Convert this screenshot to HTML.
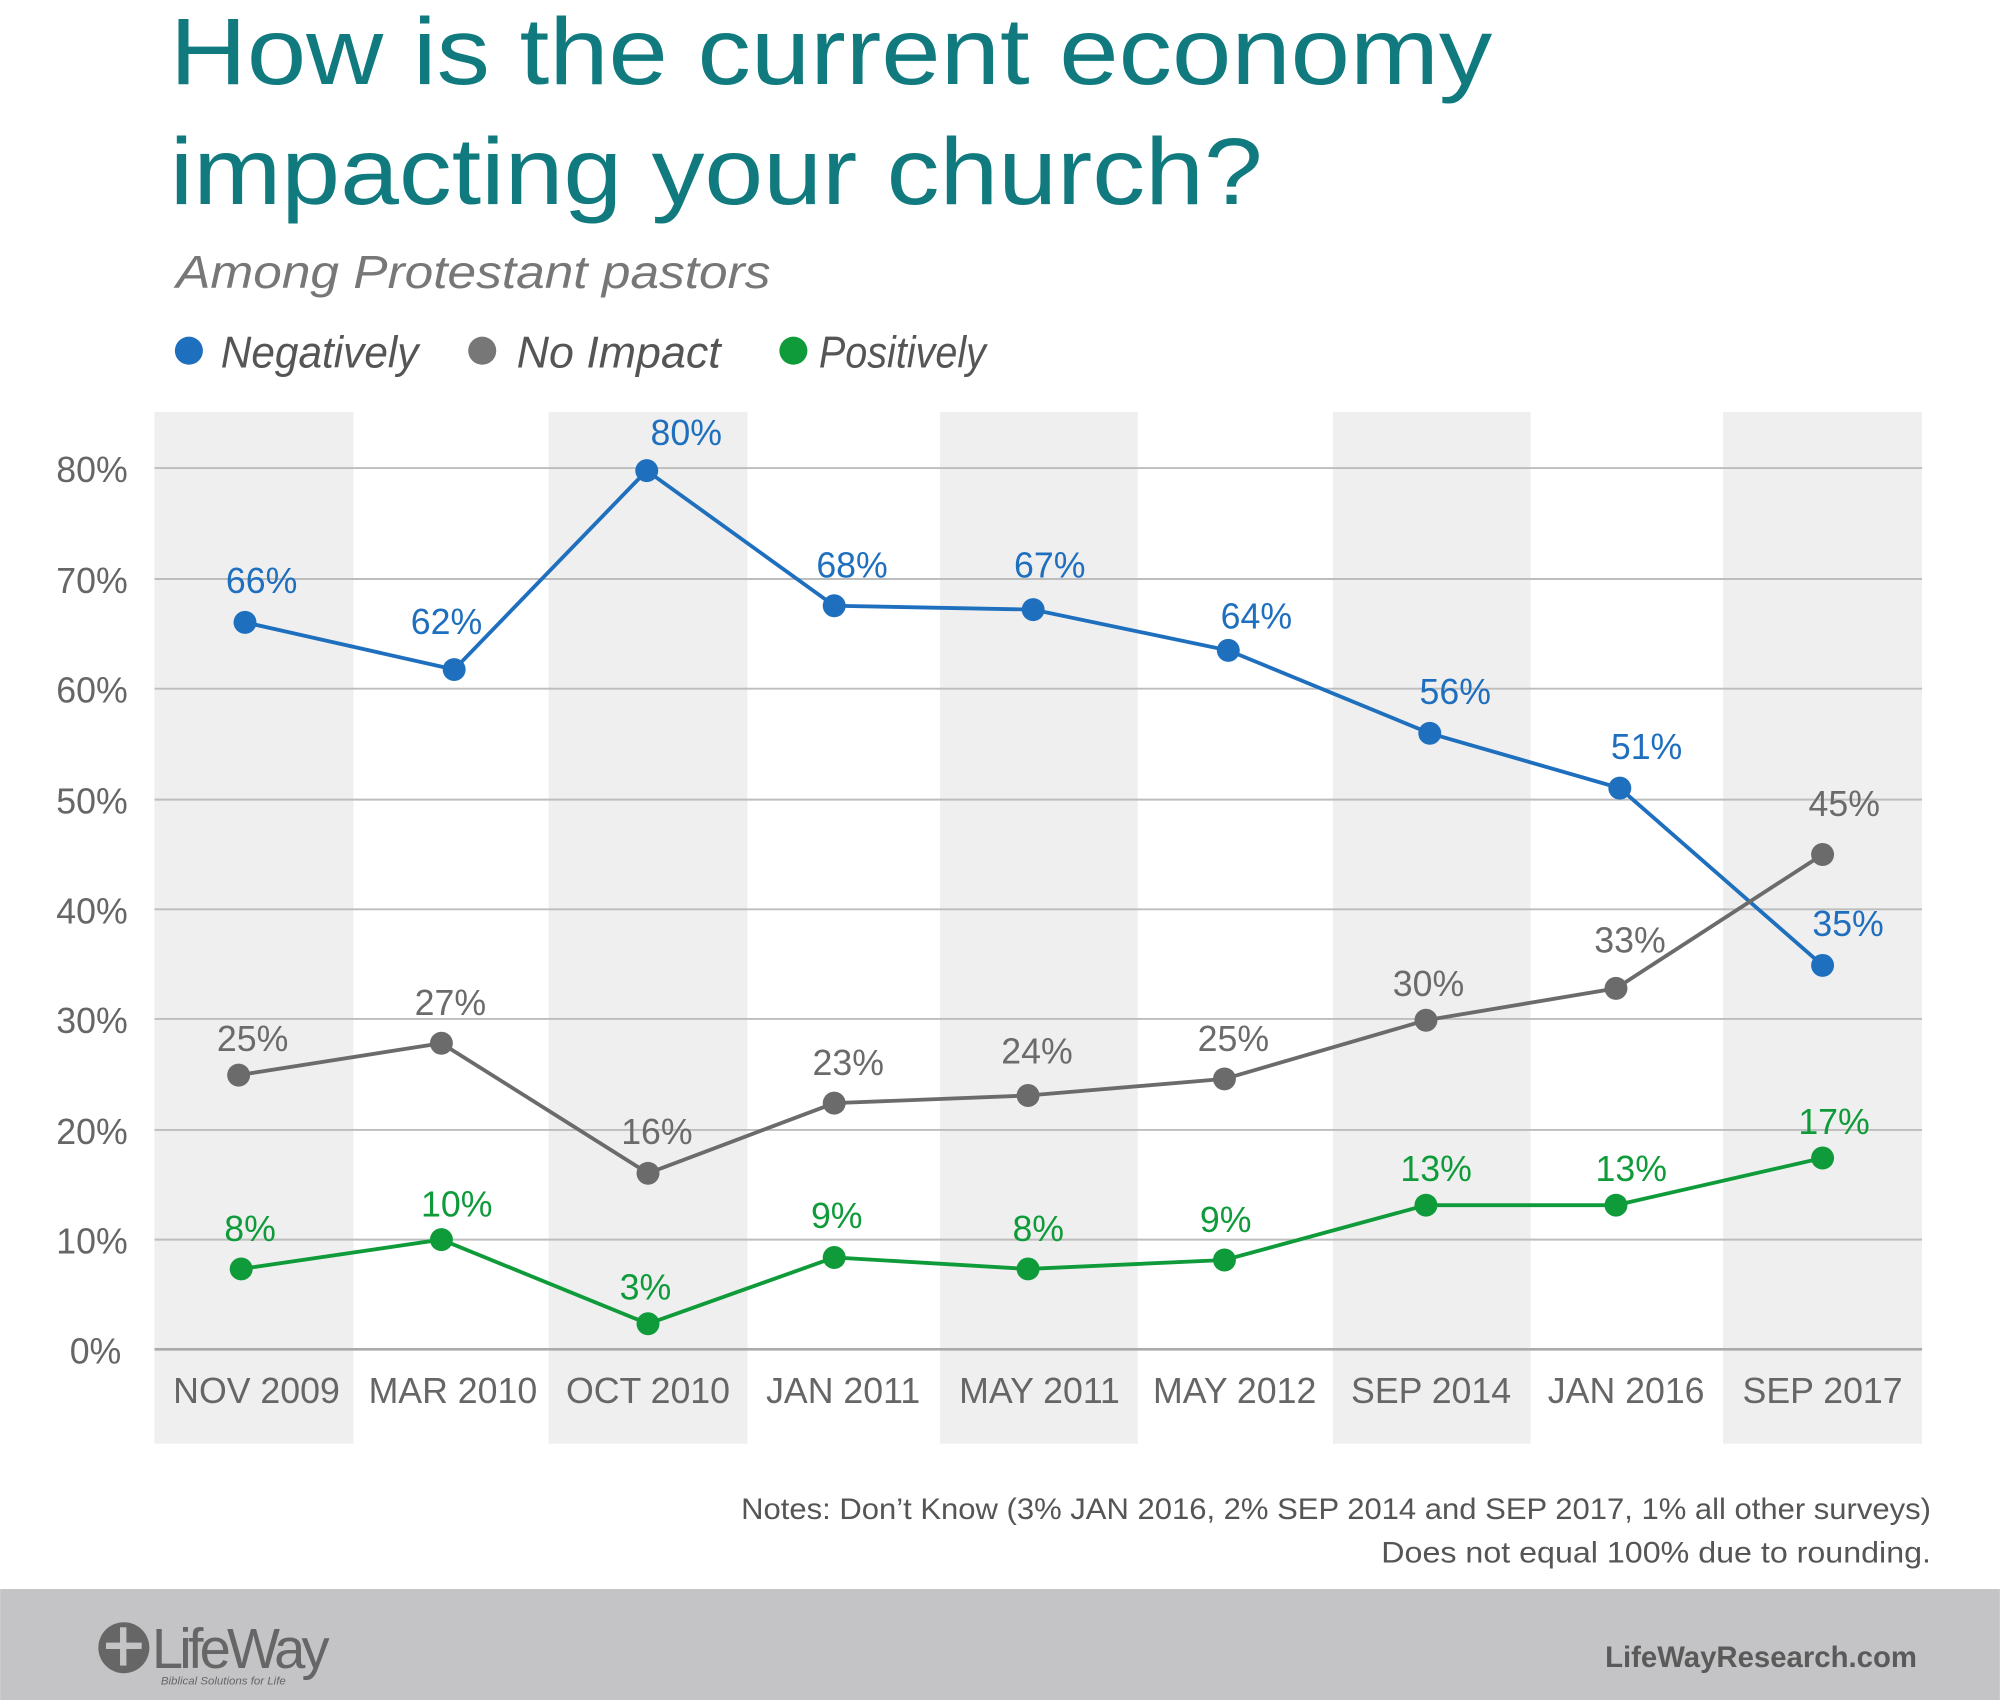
<!DOCTYPE html>
<html><head><meta charset="utf-8"><style>
html,body{margin:0;padding:0;background:#fff;}
svg{display:block;}
text{font-family:"Liberation Sans","DejaVu Sans",sans-serif;}
</style></head><body>
<svg width="2000" height="1700" viewBox="0 0 1568 1333" xmlns="http://www.w3.org/2000/svg">
<rect width="1568" height="1333" fill="#fff"/>
<text x="133" y="66" font-size="74" fill="#117a7f" textLength="1037" lengthAdjust="spacingAndGlyphs">How is the current economy</text>
<text x="133" y="160" font-size="74" fill="#117a7f" textLength="857" lengthAdjust="spacingAndGlyphs">impacting your church?</text>
<text x="138" y="226" font-size="36" font-style="italic" fill="#777" textLength="466" lengthAdjust="spacingAndGlyphs">Among Protestant pastors</text>
<circle cx="148" cy="275" r="11" fill="#1f6fbf"/>
<text x="173" y="288" font-size="35" font-style="italic" fill="#555" textLength="155" lengthAdjust="spacingAndGlyphs">Negatively</text>
<circle cx="378" cy="275" r="11" fill="#777"/>
<text x="405" y="288" font-size="35" font-style="italic" fill="#555" textLength="160" lengthAdjust="spacingAndGlyphs">No Impact</text>
<circle cx="622" cy="275" r="11" fill="#0f9b3a"/>
<text x="642" y="288" font-size="35" font-style="italic" fill="#555" textLength="131" lengthAdjust="spacingAndGlyphs">Positively</text>
<g fill="#efefef">
<rect x="121" y="323" width="156" height="809"/>
<rect x="430" y="323" width="156" height="809"/>
<rect x="737" y="323" width="155" height="809"/>
<rect x="1045" y="323" width="155" height="809"/>
<rect x="1351" y="323" width="156" height="809"/>
</g>
<g stroke="#bdbdbd" stroke-width="1.5">
<line x1="121" x2="1507" y1="367" y2="367"/><line x1="121" x2="1507" y1="454" y2="454"/>
<line x1="121" x2="1507" y1="540" y2="540"/><line x1="121" x2="1507" y1="627" y2="627"/>
<line x1="121" x2="1507" y1="713" y2="713"/><line x1="121" x2="1507" y1="799" y2="799"/>
<line x1="121" x2="1507" y1="886" y2="886"/><line x1="121" x2="1507" y1="972" y2="972"/>
<line x1="121" x2="1507" y1="1058" y2="1058" stroke="#aaa" stroke-width="2"/>
</g>
<g font-size="28" fill="#666" text-anchor="end">
<text x="100" y="378">80%</text><text x="100" y="465">70%</text><text x="100" y="551">60%</text>
<text x="100" y="638">50%</text><text x="100" y="724">40%</text><text x="100" y="810">30%</text>
<text x="100" y="897">20%</text><text x="100" y="983">10%</text><text x="95" y="1069">0%</text>
</g>
<g font-size="28" fill="#666" text-anchor="middle">
<text x="201" y="1100">NOV 2009</text><text x="355" y="1100">MAR 2010</text><text x="508" y="1100">OCT 2010</text>
<text x="661" y="1100">JAN 2011</text><text x="815" y="1100">MAY 2011</text><text x="968" y="1100">MAY 2012</text>
<text x="1122" y="1100">SEP 2014</text><text x="1275" y="1100">JAN 2016</text><text x="1429" y="1100">SEP 2017</text>
</g>
<g fill="#1f6fbf">
<polyline fill="none" stroke="#1f6fbf" stroke-width="3" points="192,488 356,525 507,369 654,475 810,478 963,510 1121,575 1270,618 1429,757"/>
<circle cx="192" cy="488" r="9"/><circle cx="356" cy="525" r="9"/><circle cx="507" cy="369" r="9"/>
<circle cx="654" cy="475" r="9"/><circle cx="810" cy="478" r="9"/><circle cx="963" cy="510" r="9"/>
<circle cx="1121" cy="575" r="9"/><circle cx="1270" cy="618" r="9"/><circle cx="1429" cy="757" r="9"/>
<g font-size="28" text-anchor="middle">
<text x="205" y="465">66%</text><text x="350" y="497">62%</text><text x="538" y="349">80%</text>
<text x="668" y="453">68%</text><text x="823" y="453">67%</text><text x="985" y="493">64%</text>
<text x="1141" y="552">56%</text><text x="1291" y="595">51%</text><text x="1449" y="734">35%</text>
</g></g>
<g fill="#6b6b6b">
<polyline fill="none" stroke="#6b6b6b" stroke-width="3" points="187,843 346,818 508,920 654,865 806,859 960,846 1118,800 1267,775 1429,670"/>
<circle cx="187" cy="843" r="9"/><circle cx="346" cy="818" r="9"/><circle cx="508" cy="920" r="9"/>
<circle cx="654" cy="865" r="9"/><circle cx="806" cy="859" r="9"/><circle cx="960" cy="846" r="9"/>
<circle cx="1118" cy="800" r="9"/><circle cx="1267" cy="775" r="9"/><circle cx="1429" cy="670" r="9"/>
<g font-size="28" text-anchor="middle">
<text x="198" y="824">25%</text><text x="353" y="796">27%</text><text x="515" y="897">16%</text>
<text x="665" y="843">23%</text><text x="813" y="834">24%</text><text x="967" y="824">25%</text>
<text x="1120" y="781">30%</text><text x="1278" y="747">33%</text><text x="1446" y="640">45%</text>
</g></g>
<g fill="#0f9b3a">
<polyline fill="none" stroke="#0f9b3a" stroke-width="3" points="189,995 346,972 508,1038 654,986 806,995 960,988 1118,945 1267,945 1429,908"/>
<circle cx="189" cy="995" r="9"/><circle cx="346" cy="972" r="9"/><circle cx="508" cy="1038" r="9"/>
<circle cx="654" cy="986" r="9"/><circle cx="806" cy="995" r="9"/><circle cx="960" cy="988" r="9"/>
<circle cx="1118" cy="945" r="9"/><circle cx="1267" cy="945" r="9"/><circle cx="1429" cy="908" r="9"/>
<g font-size="28" text-anchor="middle">
<text x="196" y="973">8%</text><text x="358" y="954">10%</text><text x="506" y="1019">3%</text>
<text x="656" y="963">9%</text><text x="814" y="973">8%</text><text x="961" y="966">9%</text>
<text x="1126" y="926">13%</text><text x="1279" y="926">13%</text><text x="1438" y="889">17%</text>
</g></g>
<g font-size="23" fill="#555">
<text x="581" y="1191" textLength="933" lengthAdjust="spacingAndGlyphs">Notes: Don’t Know (3% JAN 2016, 2% SEP 2014 and SEP 2017, 1% all other surveys)</text>
<text x="1083" y="1225" textLength="431" lengthAdjust="spacingAndGlyphs">Does not equal 100% due to rounding.</text>
</g>
<rect x="0" y="1246" width="1568" height="87" fill="#c4c4c6"/>
<circle cx="97" cy="1292" r="20" fill="#666"/>
<rect x="83" y="1288" width="28" height="5" fill="#c4c4c6"/><rect x="94" y="1276" width="5" height="30" fill="#c4c4c6"/>
<text x="119" y="1308" font-size="44" font-family="Liberation Serif,serif" fill="#666" letter-spacing="-3">LifeWay</text>
<text x="126" y="1321" font-size="9" font-family="Liberation Serif,serif" font-style="italic" fill="#666">Biblical Solutions for Life</text>
<text x="1503" y="1307" font-size="23" font-weight="bold" fill="#5a5a5a" text-anchor="end">LifeWayResearch.com</text>
</svg>
</body></html>
